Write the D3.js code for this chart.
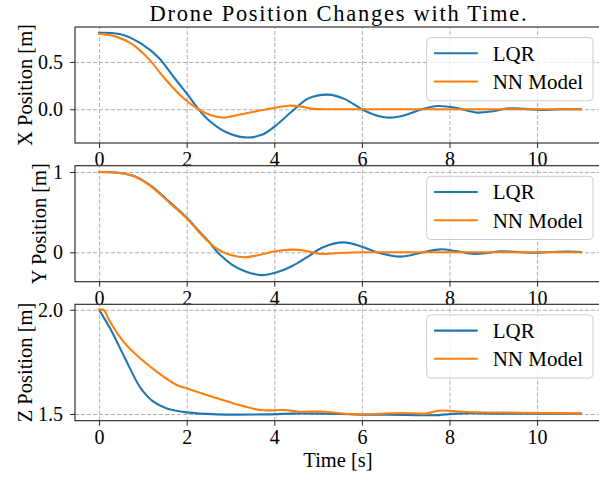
<!DOCTYPE html>
<html>
<head>
<meta charset="utf-8">
<script src="https://cdn.jsdelivr.net/npm/d3@7"></script>
<style>
  html, body { margin: 0; padding: 0; background: #fff; }
  svg { display: block; }
  text { font-family: "Liberation Serif", "Times New Roman", serif; }
</style>
</head>
<body>
<div id="chart"></div>
<script>
// ---------- DATA ----------
const seriesNames = ["LQR", "NN Model"];
const xTicks = [0, 2, 4, 6, 8, 10];

// X position
const xLqrT = [0,0.29,0.59,0.97,1.35,1.73,2.0,2.27,2.49,2.87,3.33,3.71,4.01,4.40,4.78,5.23,5.6,6.0,6.3,6.64,7.0,7.37,7.74,8.2,8.62,9.0,9.3,9.7,10.2,10.6,11];
const xLqrV = [0.808,0.806,0.78,0.69,0.55,0.325,0.168,0,-0.11,-0.234,-0.297,-0.27,-0.18,-0.024,0.115,0.155,0.11,0.0,-0.06,-0.088,-0.06,0,0.035,0.01,-0.035,-0.02,0.008,0.004,-0.006,0.002,0.0];
const xNnT  = [0,0.365,0.745,1.125,1.5,1.89,2.27,2.57,2.84,3.25,3.63,4.02,4.32,4.62,4.8,5.0,5.4,6.0,7.0,8.0,9.0,10.0,11];
const xNnV  = [0.797,0.77,0.69,0.535,0.325,0.133,0,-0.066,-0.087,-0.052,-0.017,0.017,0.038,0.028,0.01,0.002,0.001,0,0,0,0,0,0];
const xYTicks = [0.0, 0.5];
const xYTickLabels = ["0.0", "0.5"];

// Y position
const yLqrT = [0,0.44,0.82,1.2,1.58,2.0,2.27,2.49,2.72,3.03,3.33,3.71,4.02,4.4,4.78,5.1,5.58,6.0,6.34,6.87,7.4,7.79,8.15,8.55,8.9,9.16,9.5,9.92,10.3,10.68,11];
const yLqrV = [1.0,0.99,0.945,0.822,0.64,0.432,0.268,0.142,-0.008,-0.152,-0.235,-0.284,-0.255,-0.173,-0.05,0.06,0.124,0.07,0,-0.054,0,0.037,0.015,-0.02,-0.005,0.012,0.005,-0.005,0.003,0.008,0.003];
const yNnT  = [0,0.44,0.82,1.2,1.58,2.0,2.27,2.49,2.72,3.03,3.33,3.63,4.02,4.4,4.7,4.93,5.05,5.5,6,7,8,9,10,11];
const yNnV  = [1.0,0.99,0.94,0.815,0.63,0.424,0.26,0.136,0.033,-0.037,-0.062,-0.037,0.012,0.033,0.02,-0.008,-0.02,-0.008,0,0,0,0,0,0];
const yYTicks = [0, 1];
const yYTickLabels = ["0", "1"];

// Z position
const zLqrT = [0,0.25,0.555,0.86,1.01,1.24,1.545,2.0,2.69,3.83,4.59,5.5,6.0,7.0,7.6,8.3,9,10,11];
const zLqrV = [2.0,1.911,1.783,1.655,1.607,1.559,1.527,1.508,1.4985,1.4985,1.503,1.5,1.497,1.496,1.494,1.503,1.502,1.502,1.502];
const zNnT  = [0,0.1,0.25,0.555,0.936,1.317,1.774,2.0,2.46,3.07,3.68,4.21,4.59,5.05,5.73,6.0,6.87,7.48,7.75,8.4,9.16,10,11];
const zNnV  = [2.0,2.0,1.942,1.847,1.767,1.703,1.639,1.623,1.591,1.551,1.519,1.519,1.511,1.512,1.5,1.498,1.505,1.503,1.516,1.51,1.507,1.505,1.503];
const zYTicks = [1.5, 2.0];
const zYTickLabels = ["1.5", "2.0"];

const panelLabels = ["X Position [m]", "Y Position [m]", "Z Position [m]"];
const titleText = "Drone Position Changes with Time.";
const xLabelText = "Time [s]";
const colors = ["#1f77b4", "#ff7f0e"];

// ---------- LAYOUT ----------
const W = 599, H = 482;
const left = 75, right = 605;
const panels = [
  { top: 27,    bottom: 143,   domain: [-0.356, 0.869], series: [[xLqrT, xLqrV], [xNnT, xNnV]], yt: xYTicks, ytl: xYTickLabels, labelX: 31.5, label: panelLabels[0] },
  { top: 165.7, bottom: 281.7, domain: [-0.366, 1.078], series: [[yLqrT, yLqrV], [yNnT, yNnV]], yt: yYTicks, ytl: yYTickLabels, labelX: 45.5, label: panelLabels[1] },
  { top: 304.3, bottom: 420.7, domain: [1.468, 2.026],  series: [[zLqrT, zLqrV], [zNnT, zNnV]], yt: zYTicks, ytl: zYTickLabels, labelX: 31.5, label: panelLabels[2] }
];

const svg = d3.select("#chart").append("svg").attr("width", W).attr("height", H);
svg.append("rect").attr("width", W).attr("height", H).attr("fill", "#fff");

const x = d3.scaleLinear().domain([-0.55, 11.55]).range([left, right]);

svg.append("text").attr("x", 338).attr("y", 20.5).attr("text-anchor", "middle")
  .attr("font-size", 22.5).attr("textLength", 377).attr("lengthAdjust", "spacing")
  .attr("fill", "#000").text(titleText);

panels.forEach((p, i) => {
  const g = svg.append("g");
  const y = d3.scaleLinear().domain(p.domain).range([p.bottom, p.top]);
  const h = p.bottom - p.top;
  // background
  g.append("rect").attr("x", left).attr("y", p.top).attr("width", right - left).attr("height", h).attr("fill", "#fff");
  // grid
  const gx = g.append("g").attr("transform", `translate(0,${p.bottom})`)
    .call(d3.axisBottom(x).tickValues(xTicks).tickSize(-h).tickFormat(""));
  const gy = g.append("g").attr("transform", `translate(${left},0)`)
    .call(d3.axisLeft(y).tickValues(p.yt).tickSize(-(right - left)).tickFormat(""));
  [gx, gy].forEach(a => {
    a.select(".domain").remove();
    a.selectAll("line").attr("stroke", "#b0b0b0").attr("stroke-width", 1).attr("stroke-dasharray", "4,2");
  });
  // lines
  const line = d3.line().x(d => x(d[0])).y(d => y(d[1])).curve(d3.curveCatmullRom.alpha(0.5));
  p.series.forEach((s, k) => {
    const pts = s[0].map((t, j) => [t, s[1][j]]);
    g.append("path").datum(pts).attr("d", line).attr("fill", "none")
      .attr("stroke", colors[k]).attr("stroke-width", 2.1).attr("stroke-linejoin", "round").attr("stroke-linecap", "square");
  });
  // axes
  const ax = g.append("g").attr("transform", `translate(0,${p.bottom})`)
    .call(d3.axisBottom(x).tickValues(xTicks).tickSize(5).tickPadding(4).tickFormat(d3.format("d")));
  const ay = g.append("g").attr("transform", `translate(${left},0)`)
    .call(d3.axisLeft(y).tickValues(p.yt).tickSize(5).tickPadding(7).tickFormat((d, j) => p.ytl[j]));
  [ax, ay].forEach(a => {
    a.select(".domain").remove();
    a.selectAll("line").attr("stroke", "#222").attr("stroke-width", 1);
    a.selectAll("text").attr("font-size", 20).attr("fill", "#000")
      .style("font-family", '"Liberation Serif", serif');
  });
  ay.selectAll("text").attr("dy", "0.33em");
  // frame
  g.append("rect").attr("x", left).attr("y", p.top).attr("width", right - left).attr("height", h)
    .attr("fill", "none").attr("stroke", "#222").attr("stroke-width", 1.1);
  // y label
  const cy = (p.top + p.bottom) / 2;
  g.append("text").attr("transform", `translate(${p.labelX},${cy}) rotate(-90)`)
    .attr("text-anchor", "middle").attr("font-size", 20.5).attr("fill", "#000").text(p.label);
  // legend
  const lg = g.append("g").attr("transform", `translate(426.7,${p.top + 10.6})`);
  lg.append("rect").attr("width", 166.3).attr("height", 63.2).attr("rx", 4)
    .attr("fill", "#fff").attr("fill-opacity", 0.8).attr("stroke", "#cccccc").attr("stroke-width", 1);
  seriesNames.forEach((n, k) => {
    const ly = 15.7 + k * 28.2;
    lg.append("line").attr("x1", 7.3).attr("x2", 51).attr("y1", ly).attr("y2", ly)
      .attr("stroke", colors[k]).attr("stroke-width", 2.1);
    lg.append("text").attr("x", 66).attr("y", ly + 7.5).attr("font-size", 21).attr("fill", "#000").text(n);
  });
});

svg.append("text").attr("x", 338).attr("y", 467).attr("text-anchor", "middle")
  .attr("font-size", 20.5).attr("fill", "#000").text(xLabelText);
</script>
</body>
</html>
